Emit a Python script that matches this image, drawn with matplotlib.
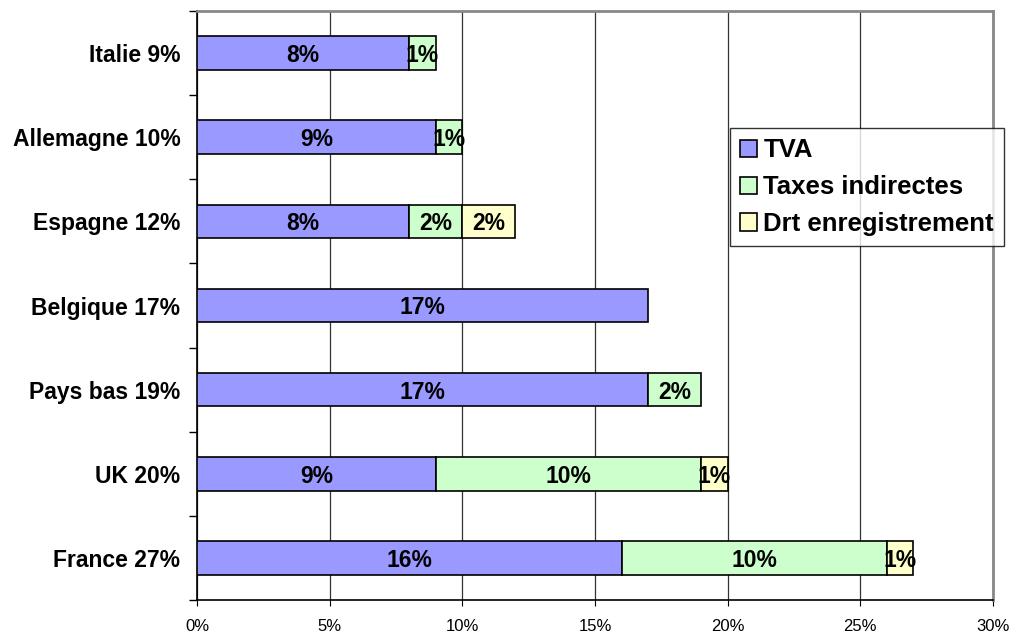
import matplotlib
matplotlib.use("Agg")
import matplotlib.pyplot as plt
import numpy as np
from matplotlib.ticker import FixedLocator, PercentFormatter

plt.rcParams['font.family'] = ['Liberation Sans', 'DejaVu Sans']

categories = ["France 27%", "UK 20%", "Pays bas 19%", "Belgique 17%",
              "Espagne 12%", "Allemagne 10%", "Italie 9%"]
tva = [16, 9, 17, 17, 8, 9, 8]
taxes = [10, 10, 2, 0, 2, 1, 1]
drt = [1, 1, 0, 0, 2, 0, 0]
series = [("TVA", tva, "#9999FF"),
          ("Taxes indirectes", taxes, "#CCFFCC"),
          ("Drt enregistrement", drt, "#FFFFCC")]
xticks = [0, 5, 10, 15, 20, 25, 30]

fig = plt.figure(figsize=(10.12, 6.33), dpi=100)
ax = fig.add_axes([197/1012, 1-600/633, (993-197)/1012, (600-11)/633])

y = np.arange(len(categories))
left = np.zeros(len(categories))
for name, vals, col in series:
    vals = np.array(vals, dtype=float)
    mask = vals > 0
    ax.barh(y[mask], vals[mask], left=left[mask], height=0.4, color=col,
            edgecolor="black", linewidth=1.2, label=name, zorder=3)
    for yi, v, l in zip(y[mask], vals[mask], left[mask]):
        ax.text(l + v/2, yi, f"{int(v)}%", ha="center", va="center_baseline",
                fontsize=16.5, fontweight="bold", zorder=4)
    left = left + vals

ax.set_xlim(0, 30)
ax.set_ylim(-0.5, len(categories) - 0.5)
ax.set_xticks(xticks)
ax.xaxis.set_major_formatter(PercentFormatter(decimals=0))
ax.tick_params(axis="x", labelsize=12, length=4, direction="out", pad=10)
ax.set_yticks(y)
ax.set_yticklabels(categories, fontsize=16.5, fontweight="bold")
ax.tick_params(axis="y", which="major", length=0, pad=12)
ax.yaxis.set_minor_locator(FixedLocator(np.arange(-0.5, len(categories), 1.0)))
ax.tick_params(axis="y", which="minor", length=6, direction="out", width=1)
ax.grid(axis="x", color="#333333", linewidth=0.9, zorder=0)
ax.set_axisbelow(True)

for s in ["left", "bottom"]:
    ax.spines[s].set_color("black")
    ax.spines[s].set_linewidth(1.2)
for s in ["top", "right"]:
    ax.spines[s].set_color("#888888")
    ax.spines[s].set_linewidth(2)

leg = ax.legend(loc="upper left", bbox_to_anchor=((730-197)/796, (600-128)/589),
                prop={"size": 18.5, "weight": "bold"}, frameon=True, fancybox=False,
                handlelength=0.65, handleheight=0.65, handletextpad=0.25,
                borderpad=0.4, labelspacing=0.5, borderaxespad=0)
leg.get_frame().set_edgecolor("black")
leg.get_frame().set_linewidth(1)
leg.set_zorder(5)

fig.savefig("out.png", dpi=100)
